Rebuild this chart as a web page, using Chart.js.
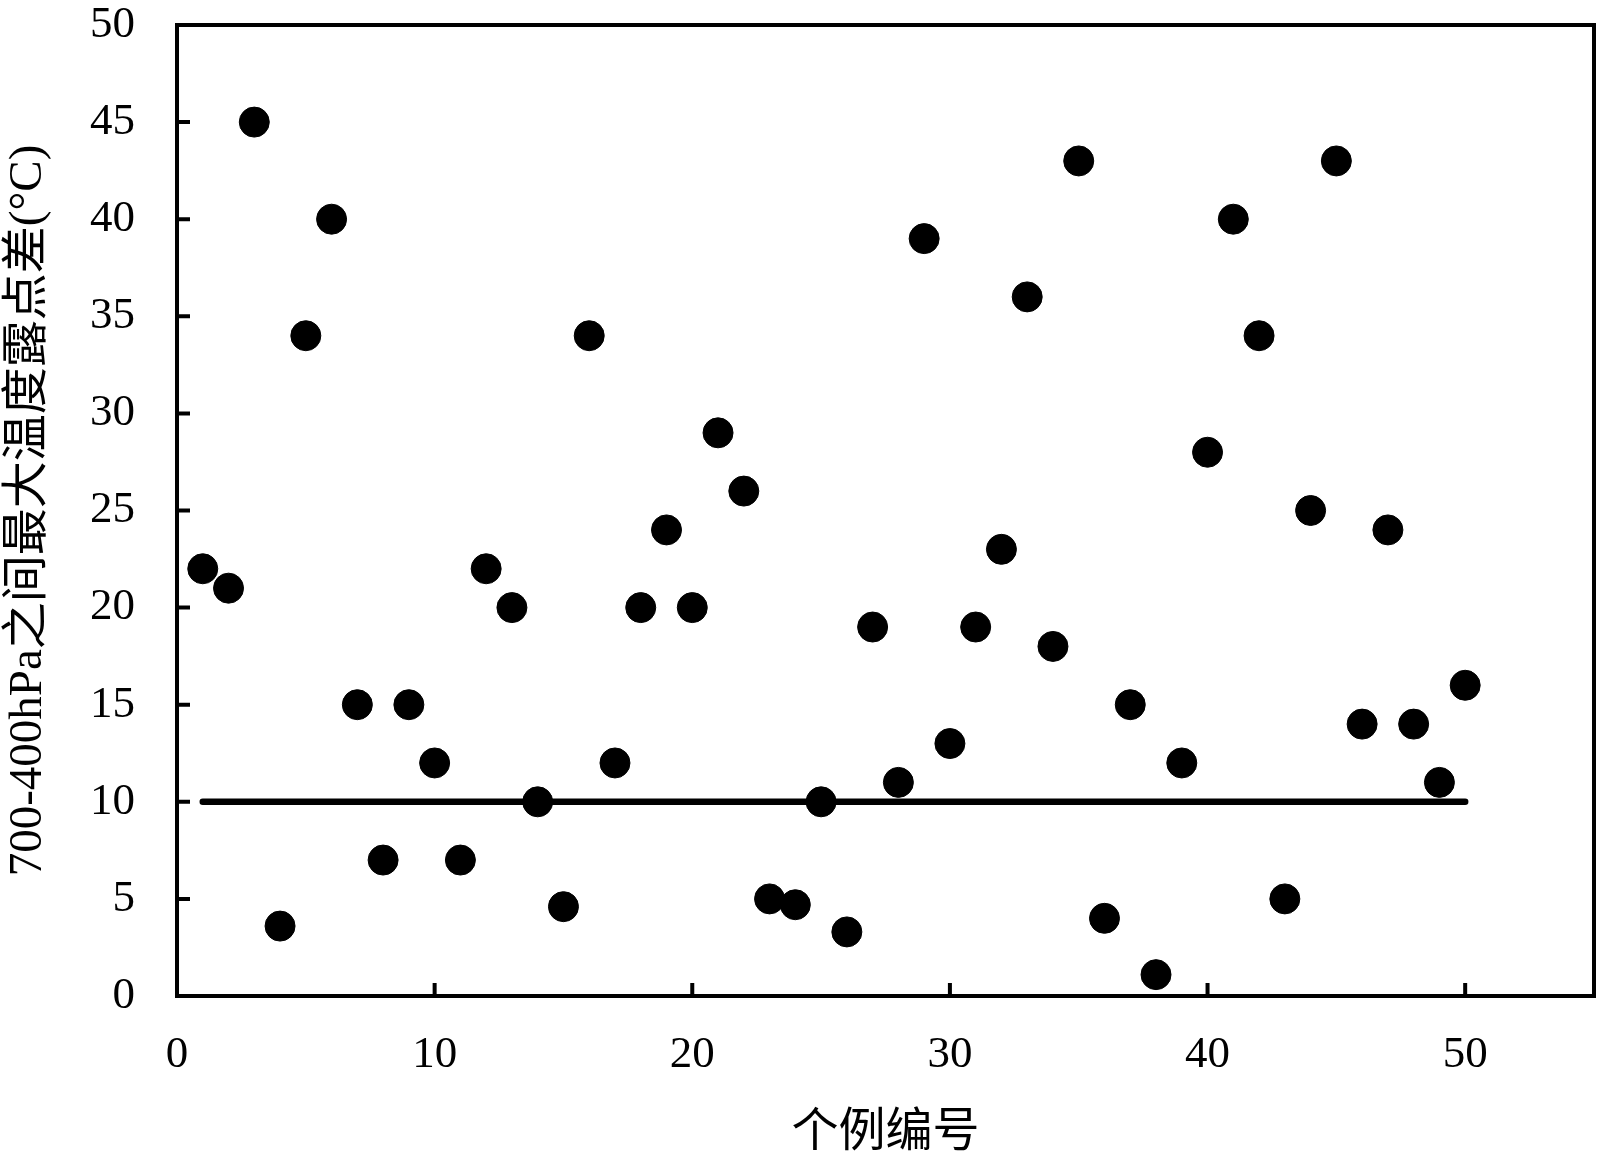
<!DOCTYPE html>
<html>
<head>
<meta charset="utf-8">
<script src="https://cdn.jsdelivr.net/npm/chart.js@4/dist/chart.umd.min.js"></script>
<style>
  html, body { margin: 0; padding: 0; background: #ffffff; overflow: hidden; }
  #wrap { width: 1600px; height: 1162px; }
  canvas { display: block; }
</style>
</head>
<body>
<div id="wrap"><canvas id="c" width="1600" height="1162"></canvas></div>
<script>
// ---- data ----
const caseIds = [1,2,3,4,5,6,7,8,9,10,11,12,13,14,15,16,17,18,19,20,21,22,23,24,25,26,27,28,29,30,31,32,33,34,35,36,37,38,39,40,41,42,43,44,45,46,47,48,49,50];
const dewSpread = [22,21,45,3.6,34,40,15,7,15,12,7,22,20,10,4.6,34,12,20,24,20,29,26,5,4.7,10,3.3,19,11,39,13,19,23,36,18,43,4,15,1.1,12,28,40,34,5,25,43,14,24,14,11,16];
const thresholdX = [1, 50];
const thresholdY = [10, 10];
const xTicks = [0,10,20,30,40,50];
const yTicks = [0,5,10,15,20,25,30,35,40,45,50];
const xTitle = '个例编号';
const yTitle = '700-400hPa之间最大温度露点差(°C)';

const serif = '"Liberation Serif", "Noto Sans CJK SC", serif';

const framePlugin = {
  id: 'frame',
  afterDraw(chart) {
    const ctx = chart.ctx, a = chart.chartArea;
    const xs = chart.scales.x, ys = chart.scales.y;
    ctx.save();
    ctx.strokeStyle = '#000';
    ctx.lineWidth = 4;
    ctx.strokeRect(a.left, a.top, a.right - a.left, a.bottom - a.top);
    ctx.beginPath();
    yTicks.forEach(v => {
      const py = ys.getPixelForValue(v);
      ctx.moveTo(a.left, py); ctx.lineTo(a.left + 13, py);
    });
    xTicks.forEach(v => {
      const px = xs.getPixelForValue(v);
      ctx.moveTo(px, a.bottom); ctx.lineTo(px, a.bottom - 13);
    });
    ctx.stroke();
    ctx.restore();
  }
};

new Chart(document.getElementById('c'), {
  type: 'scatter',
  data: {
    datasets: [
      {
        data: caseIds.map((x, i) => ({ x: x, y: dewSpread[i] })),
        backgroundColor: '#000',
        borderColor: '#000',
        pointRadius: 15,
        pointHoverRadius: 15,
        order: 1
      },
      {
        data: thresholdX.map((x, i) => ({ x: x, y: thresholdY[i] })),
        showLine: true,
        borderColor: '#000',
        borderWidth: 6.5,
        borderCapStyle: 'round',
        pointRadius: 0,
        fill: false,
        order: 2
      }
    ]
  },
  options: {
    responsive: false,
    animation: false,
    devicePixelRatio: 1,
    layout: { autoPadding: false, padding: { top: 25, right: 6, left: 0, bottom: 0 } },
    plugins: { legend: { display: false }, tooltip: { enabled: false } },
    scales: {
      x: {
        type: 'linear',
        min: 0, max: 55,
        afterBuildTicks: s => { s.ticks = xTicks.map(v => ({ value: v })); },
        afterFit: s => { s.height = 166; s.paddingLeft = 0; s.paddingRight = 0; },
        grid: { display: false, drawTicks: false },
        border: { display: false },
        ticks: { color: '#000', font: { family: serif, size: 45 }, padding: 32, maxRotation: 0 },
        title: { display: true, text: xTitle, color: '#000', font: { family: serif, size: 47 }, padding: { top: 0, bottom: 0 } }
      },
      y: {
        type: 'linear',
        min: 0, max: 50,
        afterBuildTicks: s => { s.ticks = yTicks.map(v => ({ value: v })); },
        afterFit: s => { s.width = 177; s.paddingTop = 0; s.paddingBottom = 0; },
        grid: { display: false, drawTicks: false },
        border: { display: false },
        ticks: { color: '#000', font: { family: serif, size: 45 }, padding: 42 },
        title: { display: true, text: yTitle, color: '#000', font: { family: serif, size: 47 }, padding: { top: 0, bottom: 0 } }
      }
    }
  },
  plugins: [framePlugin]
});
</script>
</body>
</html>
